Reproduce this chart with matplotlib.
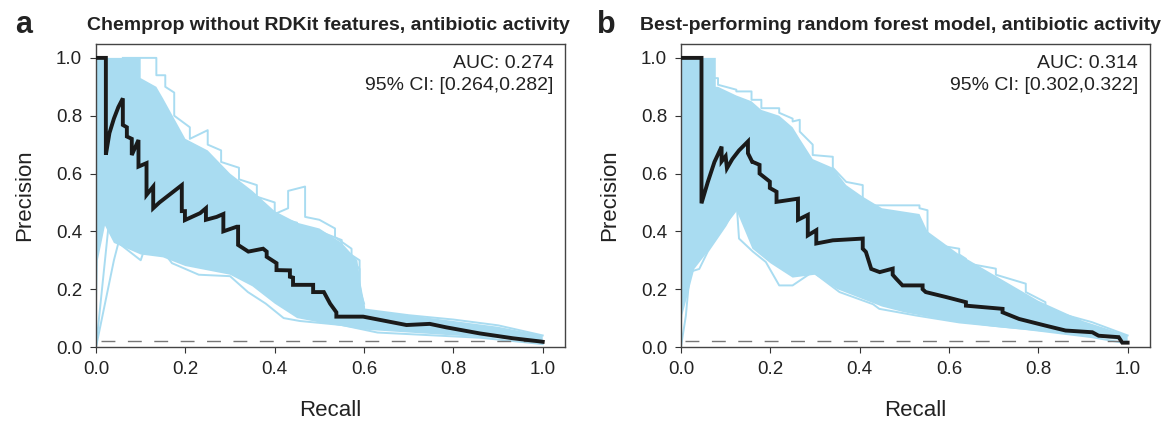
import matplotlib.pyplot as plt

plt.rcParams['font.family'] = ['Liberation Sans', 'DejaVu Sans']

BLUE = '#a9dcf1'

# ---- panel a: Chemprop without RDKit features ----
a_title = 'Chemprop without RDKit features, antibiotic activity'
a_auc = 'AUC: 0.274\n95% CI: [0.264,0.282]'
a_main_x = [0.0, 0.022, 0.022, 0.03, 0.04, 0.05, 0.06, 0.06, 0.069, 0.069, 0.08, 0.08,
            0.095, 0.095, 0.113, 0.113, 0.128, 0.128, 0.142, 0.192, 0.192, 0.199, 0.199,
            0.233, 0.246, 0.246, 0.270, 0.285, 0.285, 0.315, 0.318, 0.318, 0.341, 0.374,
            0.382, 0.382, 0.404, 0.404, 0.434, 0.434, 0.441, 0.441, 0.486, 0.486, 0.51,
            0.524, 0.538, 0.538, 0.598, 0.695, 0.747, 0.784, 0.859, 0.934, 0.99, 1.0]
a_main_y = [1.0, 1.0, 0.665, 0.74, 0.79, 0.83, 0.86, 0.768, 0.76, 0.728, 0.72, 0.664,
            0.716, 0.624, 0.636, 0.526, 0.555, 0.480, 0.50, 0.56, 0.47, 0.47, 0.439,
            0.463, 0.48, 0.44, 0.45, 0.46, 0.40, 0.416, 0.416, 0.353, 0.33, 0.34,
            0.33, 0.312, 0.29, 0.266, 0.265, 0.243, 0.24, 0.215, 0.215, 0.19, 0.19,
            0.15, 0.12, 0.105, 0.105, 0.076, 0.08, 0.068, 0.047, 0.03, 0.02, 0.018]
# dense band of bootstrap curves: upper edge, then lower edge
a_band_up_x = [0.0, 0.10, 0.10, 0.135, 0.15, 0.2, 0.25, 0.3, 0.35, 0.4, 0.45, 0.5,
               0.55, 0.585, 0.60, 0.7, 0.8, 0.9, 1.0]
a_band_up_y = [1.0, 1.0, 0.93, 0.90, 0.86, 0.72, 0.68, 0.60, 0.54, 0.47, 0.43, 0.41,
               0.36, 0.30, 0.13, 0.11, 0.09, 0.07, 0.04]
a_band_lo_x = [0.0, 0.004, 0.02, 0.04, 0.1, 0.15, 0.2, 0.3, 0.35, 0.4, 0.45, 0.5, 0.6,
               0.7, 0.8, 0.9, 1.0]
a_band_lo_y = [0.0, 0.30, 0.42, 0.36, 0.32, 0.31, 0.28, 0.25, 0.21, 0.15, 0.10, 0.085,
               0.06, 0.05, 0.04, 0.03, 0.015]
# outer bootstrap curves
a_edge = [
    ([0.06, 0.135, 0.135, 0.155, 0.155, 0.175, 0.175, 0.21, 0.21, 0.25, 0.25, 0.28,
      0.28, 0.32, 0.32, 0.36, 0.36, 0.40, 0.40, 0.43, 0.43, 0.468, 0.468, 0.50, 0.50,
      0.535, 0.535, 0.572, 0.572, 0.59, 0.59, 0.60, 0.60, 0.7, 0.8, 0.9, 1.0],
     [1.0, 1.0, 0.94, 0.94, 0.90, 0.88, 0.80, 0.76, 0.72, 0.75, 0.70, 0.68, 0.64, 0.62,
      0.58, 0.56, 0.52, 0.50, 0.46, 0.48, 0.54, 0.555, 0.45, 0.44, 0.44, 0.41, 0.38,
      0.34, 0.30, 0.27, 0.22, 0.14, 0.13, 0.11, 0.095, 0.075, 0.04]),
    ([0.2, 0.25, 0.25, 0.3, 0.3, 0.35, 0.35, 0.4, 0.45, 0.45, 0.5, 0.55, 0.55, 0.57,
      0.59, 0.59, 0.6],
     [0.62, 0.60, 0.56, 0.53, 0.49, 0.47, 0.44, 0.45, 0.43, 0.42, 0.40, 0.37, 0.33,
      0.32, 0.30, 0.20, 0.15]),
    ([0.0, 0.04, 0.05, 0.1, 0.113, 0.15, 0.17, 0.23, 0.3, 0.34, 0.38, 0.42, 0.456, 0.55,
      0.63, 0.86, 1.0],
     [0.0, 0.30, 0.36, 0.30, 0.36, 0.33, 0.29, 0.25, 0.245, 0.19, 0.15, 0.10, 0.09,
      0.076, 0.05, 0.032, 0.01]),
    ([0.0, 0.03, 0.05],
     [0.0, 0.45, 0.47]),
]

# ---- panel b: best random forest ----
b_title = 'Best-performing random forest model, antibiotic activity'
b_auc = 'AUC: 0.314\n95% CI: [0.302,0.322]'
b_main_x = [0.0, 0.046, 0.046, 0.06, 0.075, 0.091, 0.091, 0.1, 0.103, 0.115, 0.13,
            0.150, 0.150, 0.161, 0.161, 0.176, 0.176, 0.199, 0.199, 0.214, 0.214, 0.262,
            0.262, 0.284, 0.284, 0.303, 0.303, 0.34, 0.407, 0.407, 0.414, 0.426, 0.445,
            0.474, 0.474, 0.482, 0.496, 0.541, 0.541, 0.548, 0.593, 0.638, 0.638, 0.72,
            0.72, 0.757, 0.816, 0.861, 0.921, 0.935, 0.98, 0.988, 1.0]
b_main_y = [1.0, 1.0, 0.497, 0.57, 0.64, 0.693, 0.642, 0.66, 0.618, 0.65, 0.68,
            0.711, 0.67, 0.636, 0.64, 0.63, 0.60, 0.572, 0.55, 0.537, 0.502, 0.513,
            0.44, 0.457, 0.386, 0.404, 0.358, 0.369, 0.375, 0.34, 0.329, 0.27, 0.259,
            0.271, 0.25, 0.236, 0.213, 0.213, 0.20, 0.19, 0.173, 0.155, 0.143, 0.132,
            0.12, 0.097, 0.074, 0.057, 0.051, 0.039, 0.034, 0.015, 0.015]
b_band_up_x = [0.0, 0.078, 0.078, 0.083, 0.124, 0.158, 0.18, 0.22, 0.25, 0.266, 0.295,
               0.34, 0.37, 0.407, 0.45, 0.534, 0.552, 0.623, 0.7, 0.8, 0.9, 1.0]
b_band_up_y = [1.0, 1.0, 0.90, 0.90, 0.87, 0.85, 0.82, 0.80, 0.76, 0.72, 0.65, 0.62,
               0.56, 0.52, 0.48, 0.46, 0.40, 0.32, 0.25, 0.16, 0.09, 0.04]
b_band_lo_x = [0.0, 0.003, 0.03, 0.06, 0.1, 0.125, 0.16, 0.2, 0.25, 0.3, 0.35, 0.4,
               0.45, 0.5, 0.6, 0.7, 0.8, 0.9, 1.0]
b_band_lo_y = [0.0, 0.11, 0.27, 0.33, 0.42, 0.47, 0.34, 0.29, 0.24, 0.25, 0.20, 0.17,
               0.14, 0.12, 0.09, 0.07, 0.055, 0.04, 0.02]
b_edge = [
    ([0.078, 0.083, 0.083, 0.124, 0.124, 0.158, 0.158, 0.18, 0.18, 0.22, 0.22, 0.25,
      0.25, 0.266, 0.266, 0.295, 0.295, 0.34, 0.34, 0.37, 0.37, 0.407, 0.407, 0.534,
      0.534, 0.552, 0.552, 0.623, 0.623, 0.638, 0.638, 0.705, 0.705, 0.772, 0.772,
      0.816, 0.816, 0.92, 1.0],
     [0.93, 0.93, 0.907, 0.89, 0.884, 0.884, 0.855, 0.855, 0.826, 0.826, 0.81, 0.79,
      0.78, 0.786, 0.745, 0.70, 0.664, 0.658, 0.62, 0.571, 0.571, 0.56, 0.49, 0.49,
      0.48, 0.473, 0.358, 0.34, 0.32, 0.305, 0.29, 0.271, 0.25, 0.219, 0.19, 0.155,
      0.13, 0.086, 0.04]),
    ([0.0, 0.011, 0.02, 0.041, 0.06, 0.1, 0.125, 0.13, 0.161, 0.19, 0.22, 0.25, 0.295,
      0.355, 0.43, 0.444, 0.526, 0.623, 0.772, 0.92, 0.988],
     [0.0, 0.108, 0.26, 0.27, 0.33, 0.42, 0.49, 0.375, 0.33, 0.294, 0.213, 0.213, 0.26,
      0.19, 0.148, 0.132, 0.109, 0.085, 0.062, 0.034, 0.015]),
]

baseline = 0.02

fig = plt.figure(figsize=(11.67, 4.24), dpi=100)
ax_a = fig.add_axes([0.0823, 0.1816, 0.4019, 0.7146])
ax_b = fig.add_axes([0.5835, 0.1816, 0.4019, 0.7146])

panels = [
    (ax_a, 'a', a_title, a_auc, a_main_x, a_main_y, a_band_up_x, a_band_up_y,
     a_band_lo_x, a_band_lo_y, a_edge, 0.0129, 0.0746),
    (ax_b, 'b', b_title, b_auc, b_main_x, b_main_y, b_band_up_x, b_band_up_y,
     b_band_lo_x, b_band_lo_y, b_edge, 0.5116, 0.5484),
]

for ax, letter, title, auc, mx, my, ux, uy, lx, ly, edges, lx_pos, tx_pos in panels:
    # bootstrap band
    ax.fill(ux + lx[::-1], uy + ly[::-1], color=BLUE, lw=0, zorder=1)
    for ex, ey in edges:
        ax.plot(ex, ey, color=BLUE, lw=1.4, zorder=2)
    ax.plot([0, 0], [0, 1], color=BLUE, lw=1.4, zorder=2)
    ax.plot([0.01, 1.0], [baseline, baseline], color='#777777', lw=1.0,
            dashes=(10, 9), zorder=3)
    ax.plot(mx, my, color='#1a1a1a', lw=2.8, solid_joinstyle='miter', zorder=4)

    ax.set_xlim(0, 1.05)
    ax.set_ylim(0, 1.048)
    ax.set_xticks([0, 0.2, 0.4, 0.6, 0.8, 1.0])
    ax.set_yticks([0, 0.2, 0.4, 0.6, 0.8, 1.0])
    ax.set_xticklabels(['0.0', '0.2', '0.4', '0.6', '0.8', '1.0'])
    ax.set_yticklabels(['0.0', '0.2', '0.4', '0.6', '0.8', '1.0'])
    ax.tick_params(labelsize=13.5, length=4, pad=6, color='#333333', labelcolor='#222222')
    for s in ax.spines.values():
        s.set_color('#444444')
        s.set_linewidth(1.0)
    ax.set_xlabel('Recall', fontsize=16, labelpad=16, color='#222222')
    ax.set_ylabel('Precision', fontsize=16, labelpad=15, color='#222222')
    ax.text(0.975, 0.965, auc, transform=ax.transAxes, ha='right', va='top',
            fontsize=14, linespacing=1.4, color='#222222')
    fig.text(lx_pos, 0.941, letter, fontsize=22, fontweight='bold', va='center',
             color='#222222')
    fig.text(tx_pos, 0.941, title, fontsize=14, fontweight='bold', va='center',
             color='#222222')

fig.savefig('out.png', dpi=100)
